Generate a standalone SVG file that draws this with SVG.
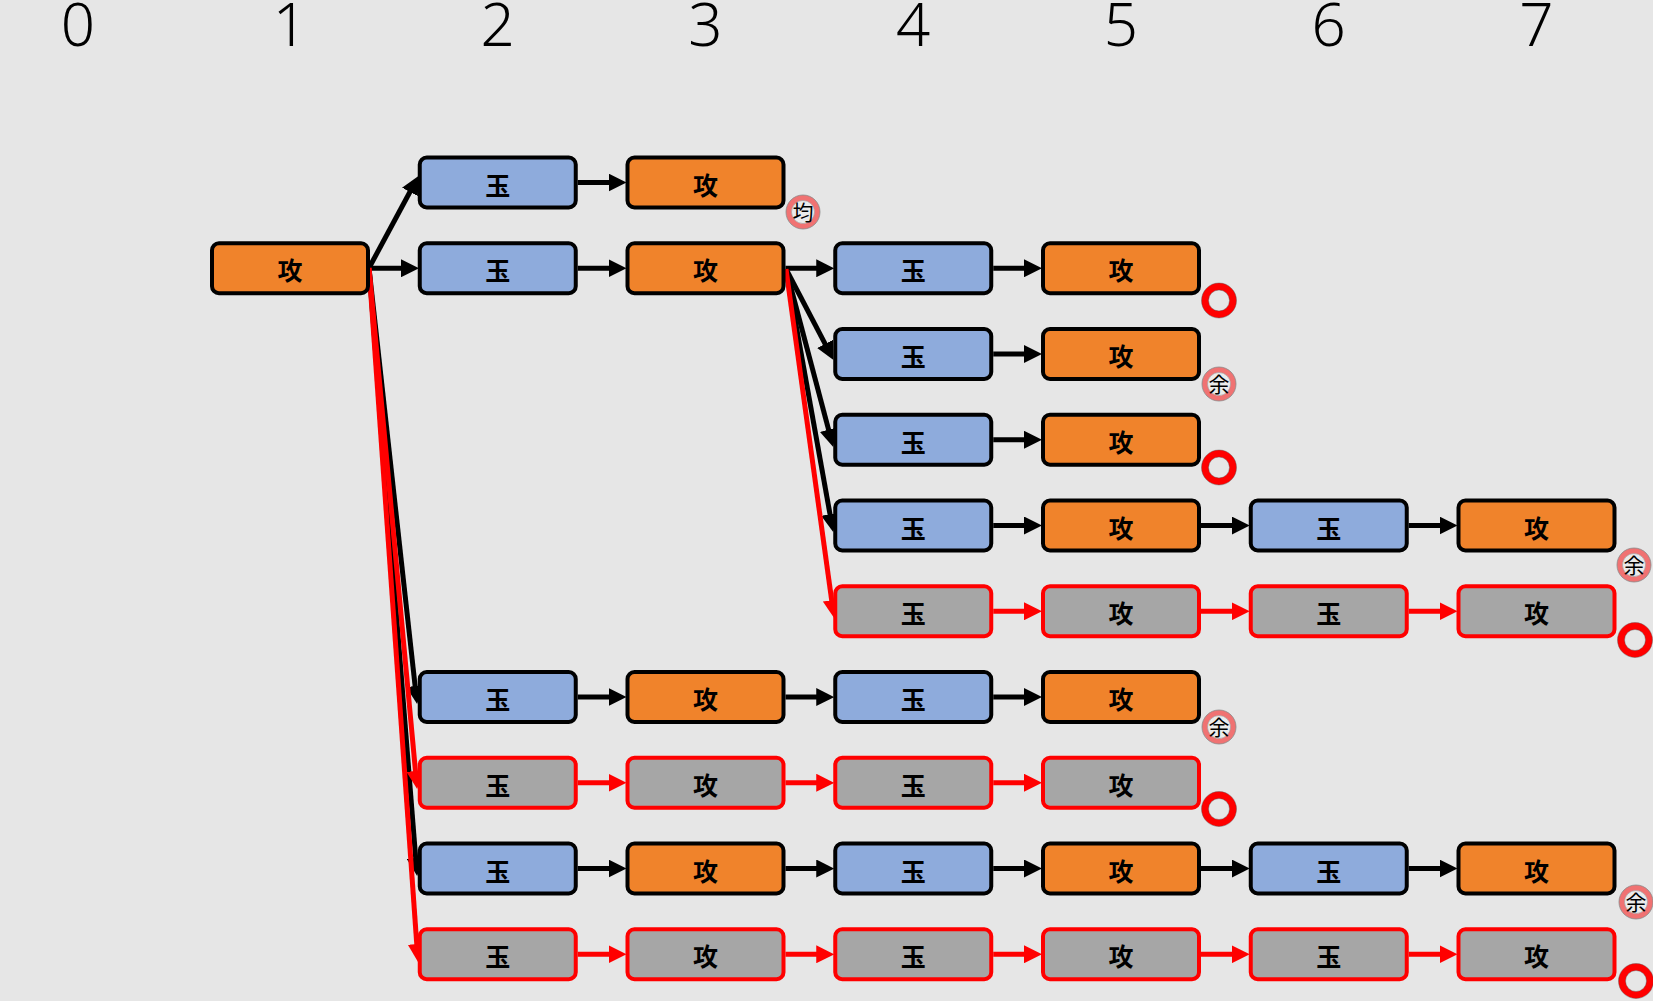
<svg xmlns="http://www.w3.org/2000/svg" width="1653" height="1001" viewBox="0 0 1653 1001">
<style>
.bg{fill:#e6e6e6}
.hdr{font-family:"Noto Sans","DejaVu Sans",sans-serif;font-weight:300;font-size:60px;fill:#000;text-anchor:middle}
.box rect{stroke-width:4}
.o rect{fill:#f0832b;stroke:#000}
.b rect{fill:#8eabdc;stroke:#000}
.g rect{fill:#a6a6a6;stroke:#ff0000}
.box text{font-family:"Noto Sans CJK JP","Noto Sans CJK SC",sans-serif;font-weight:bold;font-size:25px;fill:#000;text-anchor:middle}
.k{stroke:#000;stroke-width:5;fill:none}
.r{stroke:#ff0000;stroke-width:5;fill:none}
.ka{marker-end:url(#ak)}
.ra{marker-end:url(#ar)}
.pk{fill:#f07272;stroke:#8a8a8a;stroke-width:0.8}
.pin{fill:#ebebeb;stroke:#9a9a9a;stroke-width:0.6}
.bt{font-family:"Noto Sans CJK JP","Noto Sans CJK SC",sans-serif;font-size:21px;fill:#000;text-anchor:middle}
.ring{fill:none;stroke:#ff0000;stroke-width:7}
.rl{fill:none;stroke:#555;stroke-width:0.7;opacity:0.6}
</style>
<defs>
<marker id="ak" markerUnits="userSpaceOnUse" markerWidth="18" markerHeight="18" refX="9" refY="9" orient="auto"><path d="M0,0 L18,9 L0,18 z" fill="#000"/></marker>
<marker id="ar" markerUnits="userSpaceOnUse" markerWidth="18" markerHeight="18" refX="9" refY="9" orient="auto"><path d="M0,0 L18,9 L0,18 z" fill="#ff0000"/></marker>
<g id="ringb"><circle r="14" class="ring"/><circle r="17.5" class="rl"/><circle r="10.5" class="rl"/></g>
</defs>
<rect class="bg" x="0" y="0" width="1653" height="1001"/>
<g id="header">
<text class="hdr" x="78" y="46">0</text>
<text class="hdr" x="290" y="46">1</text>
<text class="hdr" x="497.75" y="46">2</text>
<text class="hdr" x="705.5" y="46">3</text>
<text class="hdr" x="913.25" y="46">4</text>
<text class="hdr" x="1121" y="46">5</text>
<text class="hdr" x="1328.75" y="46">6</text>
<text class="hdr" x="1536.5" y="46">7</text>
</g>
<g id="connectors">
<line class="k ka" x1="369" y1="268" x2="414.2" y2="184"/>
<line class="k ka" x1="370" y1="268.25" x2="410" y2="268.25"/>
<line class="k ka" x1="369" y1="268" x2="416.1" y2="695"/>
<line class="k ka" x1="369" y1="268" x2="416.4" y2="867"/>
<line class="r ra" x1="369" y1="268" x2="416.3" y2="780"/>
<line class="r ra" x1="369" y1="268" x2="417.4" y2="953"/>
<line class="k ka" x1="785.5" y1="268.25" x2="825.25" y2="268.25"/>
<line class="k ka" x1="786" y1="269" x2="829.3" y2="351.9"/>
<line class="k ka" x1="786" y1="269" x2="830.9" y2="438.3"/>
<line class="k ka" x1="786" y1="269" x2="831.6" y2="523.1"/>
<line class="r ra" x1="786" y1="269" x2="832.9" y2="609.1"/>
<line class="k ka" x1="577.75" y1="182.5" x2="617.5" y2="182.5"/>
<line class="k ka" x1="577.75" y1="268.25" x2="617.5" y2="268.25"/>
<line class="k ka" x1="993.25" y1="268.25" x2="1033" y2="268.25"/>
<line class="k ka" x1="993.25" y1="354" x2="1033" y2="354"/>
<line class="k ka" x1="993.25" y1="439.75" x2="1033" y2="439.75"/>
<line class="k ka" x1="993.25" y1="525.5" x2="1033" y2="525.5"/>
<line class="k ka" x1="1201" y1="525.5" x2="1240.75" y2="525.5"/>
<line class="k ka" x1="1408.75" y1="525.5" x2="1448.5" y2="525.5"/>
<line class="r ra" x1="993.25" y1="611.25" x2="1033" y2="611.25"/>
<line class="r ra" x1="1201" y1="611.25" x2="1240.75" y2="611.25"/>
<line class="r ra" x1="1408.75" y1="611.25" x2="1448.5" y2="611.25"/>
<line class="k ka" x1="577.75" y1="697" x2="617.5" y2="697"/>
<line class="k ka" x1="785.5" y1="697" x2="825.25" y2="697"/>
<line class="k ka" x1="993.25" y1="697" x2="1033" y2="697"/>
<line class="r ra" x1="577.75" y1="782.75" x2="617.5" y2="782.75"/>
<line class="r ra" x1="785.5" y1="782.75" x2="825.25" y2="782.75"/>
<line class="r ra" x1="993.25" y1="782.75" x2="1033" y2="782.75"/>
<line class="k ka" x1="577.75" y1="868.5" x2="617.5" y2="868.5"/>
<line class="k ka" x1="785.5" y1="868.5" x2="825.25" y2="868.5"/>
<line class="k ka" x1="993.25" y1="868.5" x2="1033" y2="868.5"/>
<line class="k ka" x1="1201" y1="868.5" x2="1240.75" y2="868.5"/>
<line class="k ka" x1="1408.75" y1="868.5" x2="1448.5" y2="868.5"/>
<line class="r ra" x1="577.75" y1="954.25" x2="617.5" y2="954.25"/>
<line class="r ra" x1="785.5" y1="954.25" x2="825.25" y2="954.25"/>
<line class="r ra" x1="993.25" y1="954.25" x2="1033" y2="954.25"/>
<line class="r ra" x1="1201" y1="954.25" x2="1240.75" y2="954.25"/>
<line class="r ra" x1="1408.75" y1="954.25" x2="1448.5" y2="954.25"/>
</g>
<g id="n0_2" class="box b"><rect x="419.75" y="157.5" width="156" height="50" rx="7"/><text x="497.75" y="194.5">玉</text></g>
<g id="n0_3" class="box o"><rect x="627.5" y="157.5" width="156" height="50" rx="7"/><text x="705.5" y="194.5">攻</text></g>
<g id="n1_1" class="box o"><rect x="212" y="243.25" width="156" height="50" rx="7"/><text x="290" y="280.25">攻</text></g>
<g id="n1_2" class="box b"><rect x="419.75" y="243.25" width="156" height="50" rx="7"/><text x="497.75" y="280.25">玉</text></g>
<g id="n1_3" class="box o"><rect x="627.5" y="243.25" width="156" height="50" rx="7"/><text x="705.5" y="280.25">攻</text></g>
<g id="n1_4" class="box b"><rect x="835.25" y="243.25" width="156" height="50" rx="7"/><text x="913.25" y="280.25">玉</text></g>
<g id="n1_5" class="box o"><rect x="1043" y="243.25" width="156" height="50" rx="7"/><text x="1121" y="280.25">攻</text></g>
<g id="n2_4" class="box b"><rect x="835.25" y="329" width="156" height="50" rx="7"/><text x="913.25" y="366">玉</text></g>
<g id="n2_5" class="box o"><rect x="1043" y="329" width="156" height="50" rx="7"/><text x="1121" y="366">攻</text></g>
<g id="n3_4" class="box b"><rect x="835.25" y="414.75" width="156" height="50" rx="7"/><text x="913.25" y="451.75">玉</text></g>
<g id="n3_5" class="box o"><rect x="1043" y="414.75" width="156" height="50" rx="7"/><text x="1121" y="451.75">攻</text></g>
<g id="n4_4" class="box b"><rect x="835.25" y="500.5" width="156" height="50" rx="7"/><text x="913.25" y="537.5">玉</text></g>
<g id="n4_5" class="box o"><rect x="1043" y="500.5" width="156" height="50" rx="7"/><text x="1121" y="537.5">攻</text></g>
<g id="n4_6" class="box b"><rect x="1250.75" y="500.5" width="156" height="50" rx="7"/><text x="1328.75" y="537.5">玉</text></g>
<g id="n4_7" class="box o"><rect x="1458.5" y="500.5" width="156" height="50" rx="7"/><text x="1536.5" y="537.5">攻</text></g>
<g id="n5_4" class="box g"><rect x="835.25" y="586.25" width="156" height="50" rx="7"/><text x="913.25" y="623.25">玉</text></g>
<g id="n5_5" class="box g"><rect x="1043" y="586.25" width="156" height="50" rx="7"/><text x="1121" y="623.25">攻</text></g>
<g id="n5_6" class="box g"><rect x="1250.75" y="586.25" width="156" height="50" rx="7"/><text x="1328.75" y="623.25">玉</text></g>
<g id="n5_7" class="box g"><rect x="1458.5" y="586.25" width="156" height="50" rx="7"/><text x="1536.5" y="623.25">攻</text></g>
<g id="n6_2" class="box b"><rect x="419.75" y="672" width="156" height="50" rx="7"/><text x="497.75" y="709">玉</text></g>
<g id="n6_3" class="box o"><rect x="627.5" y="672" width="156" height="50" rx="7"/><text x="705.5" y="709">攻</text></g>
<g id="n6_4" class="box b"><rect x="835.25" y="672" width="156" height="50" rx="7"/><text x="913.25" y="709">玉</text></g>
<g id="n6_5" class="box o"><rect x="1043" y="672" width="156" height="50" rx="7"/><text x="1121" y="709">攻</text></g>
<g id="n7_2" class="box g"><rect x="419.75" y="757.75" width="156" height="50" rx="7"/><text x="497.75" y="794.75">玉</text></g>
<g id="n7_3" class="box g"><rect x="627.5" y="757.75" width="156" height="50" rx="7"/><text x="705.5" y="794.75">攻</text></g>
<g id="n7_4" class="box g"><rect x="835.25" y="757.75" width="156" height="50" rx="7"/><text x="913.25" y="794.75">玉</text></g>
<g id="n7_5" class="box g"><rect x="1043" y="757.75" width="156" height="50" rx="7"/><text x="1121" y="794.75">攻</text></g>
<g id="n8_2" class="box b"><rect x="419.75" y="843.5" width="156" height="50" rx="7"/><text x="497.75" y="880.5">玉</text></g>
<g id="n8_3" class="box o"><rect x="627.5" y="843.5" width="156" height="50" rx="7"/><text x="705.5" y="880.5">攻</text></g>
<g id="n8_4" class="box b"><rect x="835.25" y="843.5" width="156" height="50" rx="7"/><text x="913.25" y="880.5">玉</text></g>
<g id="n8_5" class="box o"><rect x="1043" y="843.5" width="156" height="50" rx="7"/><text x="1121" y="880.5">攻</text></g>
<g id="n8_6" class="box b"><rect x="1250.75" y="843.5" width="156" height="50" rx="7"/><text x="1328.75" y="880.5">玉</text></g>
<g id="n8_7" class="box o"><rect x="1458.5" y="843.5" width="156" height="50" rx="7"/><text x="1536.5" y="880.5">攻</text></g>
<g id="n9_2" class="box g"><rect x="419.75" y="929.25" width="156" height="50" rx="7"/><text x="497.75" y="966.25">玉</text></g>
<g id="n9_3" class="box g"><rect x="627.5" y="929.25" width="156" height="50" rx="7"/><text x="705.5" y="966.25">攻</text></g>
<g id="n9_4" class="box g"><rect x="835.25" y="929.25" width="156" height="50" rx="7"/><text x="913.25" y="966.25">玉</text></g>
<g id="n9_5" class="box g"><rect x="1043" y="929.25" width="156" height="50" rx="7"/><text x="1121" y="966.25">攻</text></g>
<g id="n9_6" class="box g"><rect x="1250.75" y="929.25" width="156" height="50" rx="7"/><text x="1328.75" y="966.25">玉</text></g>
<g id="n9_7" class="box g"><rect x="1458.5" y="929.25" width="156" height="50" rx="7"/><text x="1536.5" y="966.25">攻</text></g>
<g id="badge0"><circle cx="803" cy="212" r="17" class="pk"/><circle cx="803" cy="212" r="11.5" class="pin"/><text class="bt" x="803" y="219.5">均</text></g>
<g id="badge1"><use href="#ringb" x="1219" y="300.5"/></g>
<g id="badge2"><circle cx="1219" cy="384" r="17" class="pk"/><circle cx="1219" cy="384" r="11.5" class="pin"/><text class="bt" x="1219" y="391.5">余</text></g>
<g id="badge3"><use href="#ringb" x="1219" y="467.5"/></g>
<g id="badge4"><circle cx="1634" cy="565" r="17" class="pk"/><circle cx="1634" cy="565" r="11.5" class="pin"/><text class="bt" x="1634" y="572.5">余</text></g>
<g id="badge5"><use href="#ringb" x="1635" y="640"/></g>
<g id="badge6"><circle cx="1219" cy="727" r="17" class="pk"/><circle cx="1219" cy="727" r="11.5" class="pin"/><text class="bt" x="1219" y="734.5">余</text></g>
<g id="badge7"><use href="#ringb" x="1219" y="809"/></g>
<g id="badge8"><circle cx="1636" cy="902" r="17" class="pk"/><circle cx="1636" cy="902" r="11.5" class="pin"/><text class="bt" x="1636" y="909.5">余</text></g>
<g id="badge9"><use href="#ringb" x="1636" y="981"/></g>
</svg>
